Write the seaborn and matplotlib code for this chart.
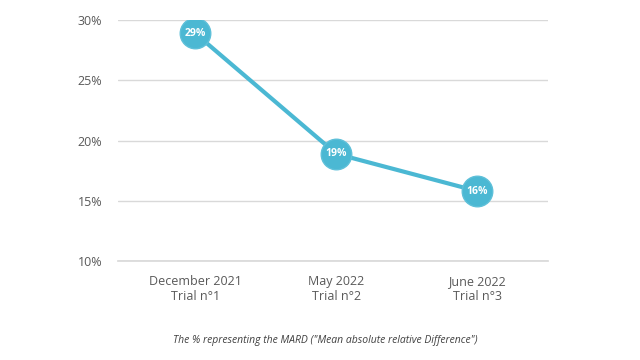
import matplotlib
matplotlib.use("Agg")
import matplotlib.pyplot as plt
import seaborn as sns
import pandas as pd

categories = ["December 2021\nTrial n°1", "May 2022\nTrial n°2", "June 2022\nTrial n°3"]
values = [28.9, 18.9, 15.8]
labels = ["29%", "19%", "16%"]
yticks = [10, 15, 20, 25, 30]

sns.set_theme(style="white")
plt.rcParams['font.family'] = ['Open Sans', 'DejaVu Sans']

df = pd.DataFrame({"cat": categories, "val": values})
color = "#4BB8D3"

fig = plt.figure(figsize=(6.4, 3.6), dpi=100)
ax = fig.add_axes([0.184, 0.275, 0.672, 0.669])
sns.lineplot(data=df, x="cat", y="val", ax=ax, color=color, linewidth=3,
             marker="o", markersize=22, markeredgecolor="#5EC0D9", markeredgewidth=1, sort=False)
for i, (v, lab) in enumerate(zip(values, labels)):
    ax.text(i, v, lab, ha="center", va="center", color="white", fontsize=7.5,
            fontweight="bold", zorder=5)

ax.set_ylim(10, 30)
ax.set_xlim(-0.55, 2.5)
ax.set_yticks(yticks)
ax.set_yticklabels([f"{t}%" for t in yticks])
ax.set_xlabel("")
ax.set_ylabel("")
ax.yaxis.grid(True, color="#D9D9D9", linewidth=1)
ax.xaxis.grid(False)
for s in ["top", "right", "left"]:
    ax.spines[s].set_visible(False)
ax.spines["bottom"].set_color("#D9D9D9")
ax.tick_params(axis="y", colors="#595959", labelsize=9, length=0, pad=11)
ax.tick_params(axis="x", colors="#595959", labelsize=9, length=0, pad=10)
ax.set_axisbelow(True)

fig.text(0.508, 0.055, "The % representing the MARD (\"Mean absolute relative Difference\")",
         ha="center", va="center", fontsize=7.5, style="italic", color="#404040")

fig.savefig("out.png", dpi=100)
